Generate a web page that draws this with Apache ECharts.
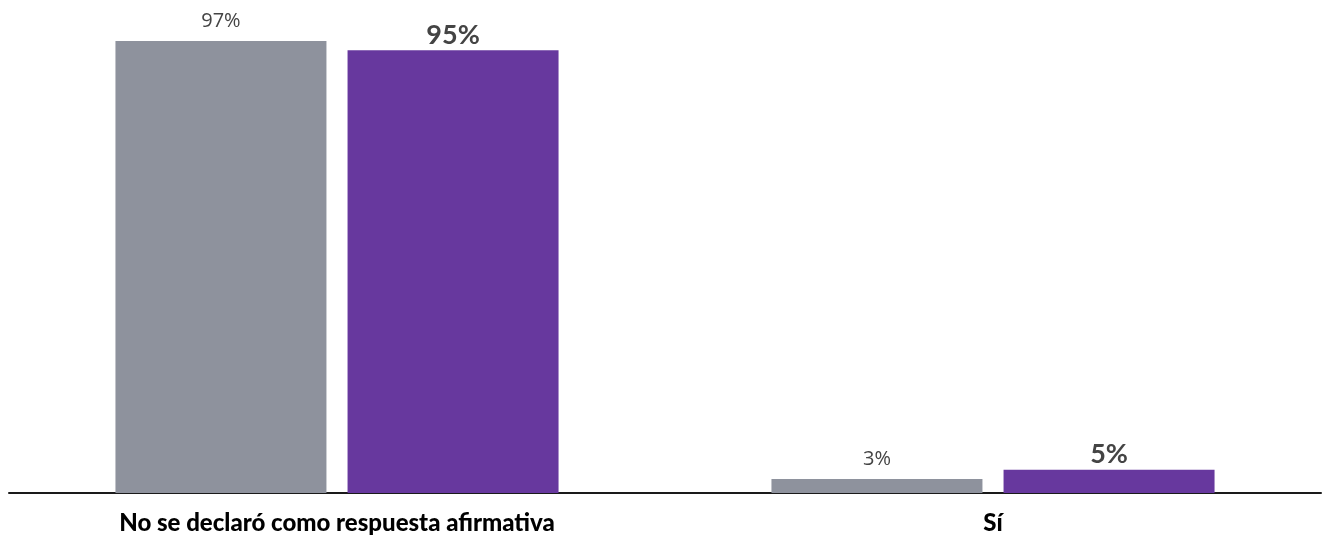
<!DOCTYPE html>
<html><head><meta charset="utf-8">
<script src="https://cdn.jsdelivr.net/npm/echarts@6/dist/echarts.min.js"></script>
<style>html,body{margin:0;padding:0;background:#fff}#c{width:1333px;height:535px}</style>
</head><body><div id="c"></div>
<script>
const categories = ["No se declaró como respuesta afirmativa", "Sí"];
const seriesA = [97, 3];
const seriesB = [95, 5];
const chart = echarts.init(document.getElementById('c'));
chart.setOption({
  animation: false,
  grid: {left: 9, right: 12, top: 27, bottom: 42, containLabel: false},
  xAxis: {
    type: 'category', data: categories,
    axisLine: {lineStyle: {color: '#1a1a1a', width: 2}},
    axisTick: {show: false},
    axisLabel: {color: '#000', fontFamily: 'Lato', fontWeight: 900, fontSize: 24, margin: 18}
  },
  yAxis: {type: 'value', min: 0, max: 100, show: false, splitLine: {show: false}},
  series: [
    {name: 'A', type: 'bar', data: seriesA, barWidth: 211, barGap: '10%',
     itemStyle: {color: '#8e929d'},
     label: {show: true, position: 'top', distance: 10, formatter: '{c}%', color: '#444', fontFamily: 'Open Sans', fontSize: 20}},
    {name: 'B', type: 'bar', data: seriesB, barWidth: 211,
     itemStyle: {color: '#67389e'},
     label: {show: true, position: 'top', distance: 2, formatter: '{c}%', color: '#444', fontFamily: 'Lato', fontWeight: 'bold', fontSize: 27}}
  ]
});
</script></body></html>
